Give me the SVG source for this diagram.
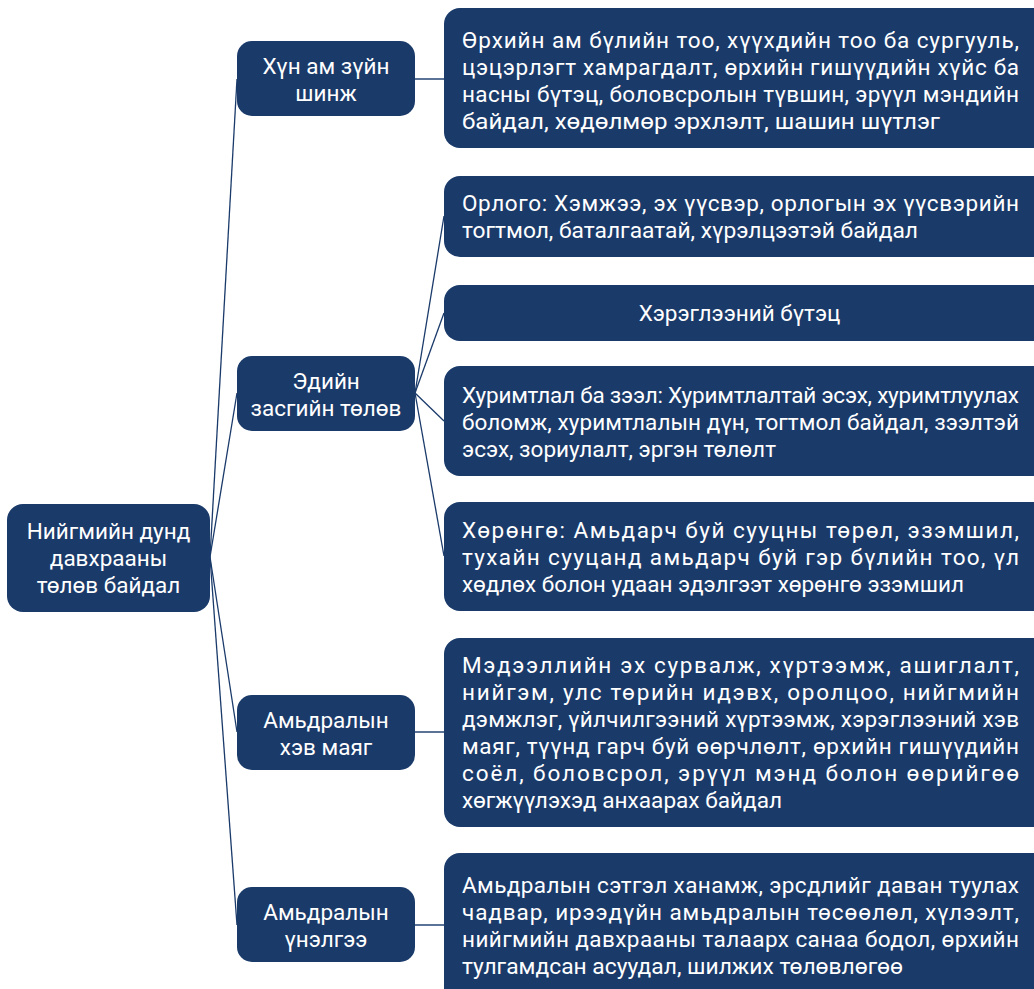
<svg xmlns="http://www.w3.org/2000/svg" width="1034" height="989" viewBox="0 0 1034 989">
<style>
.box{fill:#1a3a6a;}
.t{font-family:Roboto,"Noto Sans","DejaVu Sans",sans-serif;font-size:22.5px;fill:#ffffff;}
.c{text-anchor:middle;}
.ln{stroke:#1a3a6a;stroke-width:1.3;fill:none;}
.hz{stroke:#5a7396;stroke-width:2;fill:none;}
</style>
<rect width="1034" height="989" fill="#ffffff"/>
<g id="connectors">
<line class="ln" x1="210" y1="557" x2="237" y2="79"/>
<line class="ln" x1="210" y1="557" x2="237" y2="393"/>
<line class="ln" x1="210" y1="557" x2="237" y2="732"/>
<line class="ln" x1="210" y1="557" x2="237" y2="925"/>
<line class="ln" x1="415" y1="393" x2="444" y2="216"/>
<line class="ln" x1="415" y1="393" x2="444" y2="313"/>
<line class="ln" x1="415" y1="393" x2="444" y2="421"/>
<line class="ln" x1="415" y1="393" x2="444" y2="556"/>
<line class="hz" x1="415" y1="79" x2="444" y2="79"/>
<line class="hz" x1="415" y1="732" x2="444" y2="732"/>
<line class="hz" x1="415" y1="925" x2="444" y2="925"/>
</g>
<g id="root">
<rect class="box" x="7" y="504" width="203" height="108" rx="16"/>
<text class="t c" x="108.5" y="539">Нийгмийн дунд</text>
<text class="t c" x="108.5" y="566">давхрааны</text>
<text class="t c" x="108.5" y="593">төлөв байдал</text>
</g>
<g id="n-hun-am">
<rect class="box" x="237" y="41" width="178" height="75" rx="15"/>
<text class="t c" x="326" y="74">Хүн ам зүйн</text>
<text class="t c" x="326" y="101">шинж</text>
</g>
<g id="n-ediin">
<rect class="box" x="237" y="356" width="178" height="75" rx="15"/>
<text class="t c" x="326" y="389">Эдийн</text>
<text class="t c" x="326" y="416">засгийн төлөв</text>
</g>
<g id="n-hev">
<rect class="box" x="237" y="695" width="178" height="75" rx="15"/>
<text class="t c" x="326" y="728">Амьдралын</text>
<text class="t c" x="326" y="755">хэв маяг</text>
</g>
<g id="n-unelgee">
<rect class="box" x="237" y="887" width="178" height="75" rx="15"/>
<text class="t c" x="326" y="920">Амьдралын</text>
<text class="t c" x="326" y="947">үнэлгээ</text>
</g>
<g id="d-hun-am">
<rect class="box" x="444" y="8" width="620" height="140" rx="16"/>
<text class="t" x="462" y="48" textLength="557" lengthAdjust="spacing">Өрхийн ам бүлийн тоо, хүүхдийн тоо ба сургууль,</text>
<text class="t" x="462" y="75" textLength="557" lengthAdjust="spacing">цэцэрлэгт хамрагдалт, өрхийн гишүүдийн хүйс ба</text>
<text class="t" x="462" y="102" textLength="557" lengthAdjust="spacing">насны бүтэц, боловсролын түвшин, эрүүл мэндийн</text>
<text class="t" x="462" y="129" textLength="478" lengthAdjust="spacingAndGlyphs">байдал, хөдөлмөр эрхлэлт, шашин шүтлэг</text>
</g>
<g id="d-orlogo">
<rect class="box" x="444" y="176" width="620" height="81" rx="16"/>
<text class="t" x="462" y="211" textLength="557" lengthAdjust="spacing">Орлого: Хэмжээ, эх үүсвэр, орлогын эх үүсвэрийн</text>
<text class="t" x="462" y="238" textLength="456" lengthAdjust="spacingAndGlyphs">тогтмол, баталгаатай, хүрэлцээтэй байдал</text>
</g>
<g id="d-hereglee">
<rect class="box" x="444" y="285" width="620" height="56" rx="16"/>
<text class="t c" x="739.5" y="321">Хэрэглээний бүтэц</text>
</g>
<g id="d-hurimtlal">
<rect class="box" x="444" y="366" width="620" height="110" rx="16"/>
<text class="t" x="462" y="403" textLength="557" lengthAdjust="spacing">Хуримтлал ба зээл: Хуримтлалтай эсэх, хуримтлуулах</text>
<text class="t" x="462" y="430" textLength="557" lengthAdjust="spacing">боломж, хуримтлалын дүн, тогтмол байдал, зээлтэй</text>
<text class="t" x="462" y="457" textLength="314" lengthAdjust="spacingAndGlyphs">эсэх, зориулалт, эргэн төлөлт</text>
</g>
<g id="d-horongo">
<rect class="box" x="444" y="502" width="620" height="109" rx="16"/>
<text class="t" x="462" y="538" textLength="557" lengthAdjust="spacing">Хөрөнгө: Амьдарч буй сууцны төрөл, эзэмшил,</text>
<text class="t" x="462" y="565" textLength="557" lengthAdjust="spacing">тухайн сууцанд амьдарч буй гэр бүлийн тоо, үл</text>
<text class="t" x="462" y="592" textLength="502" lengthAdjust="spacingAndGlyphs">хөдлөх болон удаан эдэлгээт хөрөнгө эзэмшил</text>
</g>
<g id="d-medeelel">
<rect class="box" x="444" y="638" width="620" height="189" rx="16"/>
<text class="t" x="462" y="673" textLength="557" lengthAdjust="spacing">Мэдээллийн эх сурвалж, хүртээмж, ашиглалт,</text>
<text class="t" x="462" y="700" textLength="557" lengthAdjust="spacing">нийгэм, улс төрийн идэвх, оролцоо, нийгмийн</text>
<text class="t" x="462" y="727" textLength="557" lengthAdjust="spacing">дэмжлэг, үйлчилгээний хүртээмж, хэрэглээний хэв</text>
<text class="t" x="462" y="754" textLength="557" lengthAdjust="spacing">маяг, түүнд гарч буй өөрчлөлт, өрхийн гишүүдийн</text>
<text class="t" x="462" y="781" textLength="557" lengthAdjust="spacing">соёл, боловсрол, эрүүл мэнд болон өөрийгөө</text>
<text class="t" x="462" y="808" textLength="320" lengthAdjust="spacingAndGlyphs">хөгжүүлэхэд анхаарах байдал</text>
</g>
<g id="d-setgel">
<rect class="box" x="444" y="853" width="620" height="160" rx="16"/>
<text class="t" x="462" y="893" textLength="557" lengthAdjust="spacing">Амьдралын сэтгэл ханамж, эрсдлийг даван туулах</text>
<text class="t" x="462" y="920" textLength="557" lengthAdjust="spacing">чадвар, ирээдүйн амьдралын төсөөлөл, хүлээлт,</text>
<text class="t" x="462" y="947" textLength="557" lengthAdjust="spacing">нийгмийн давхрааны талаарх санаа бодол, өрхийн</text>
<text class="t" x="462" y="974" textLength="441" lengthAdjust="spacingAndGlyphs">тулгамдсан асуудал, шилжих төлөвлөгөө</text>
</g>
</svg>
